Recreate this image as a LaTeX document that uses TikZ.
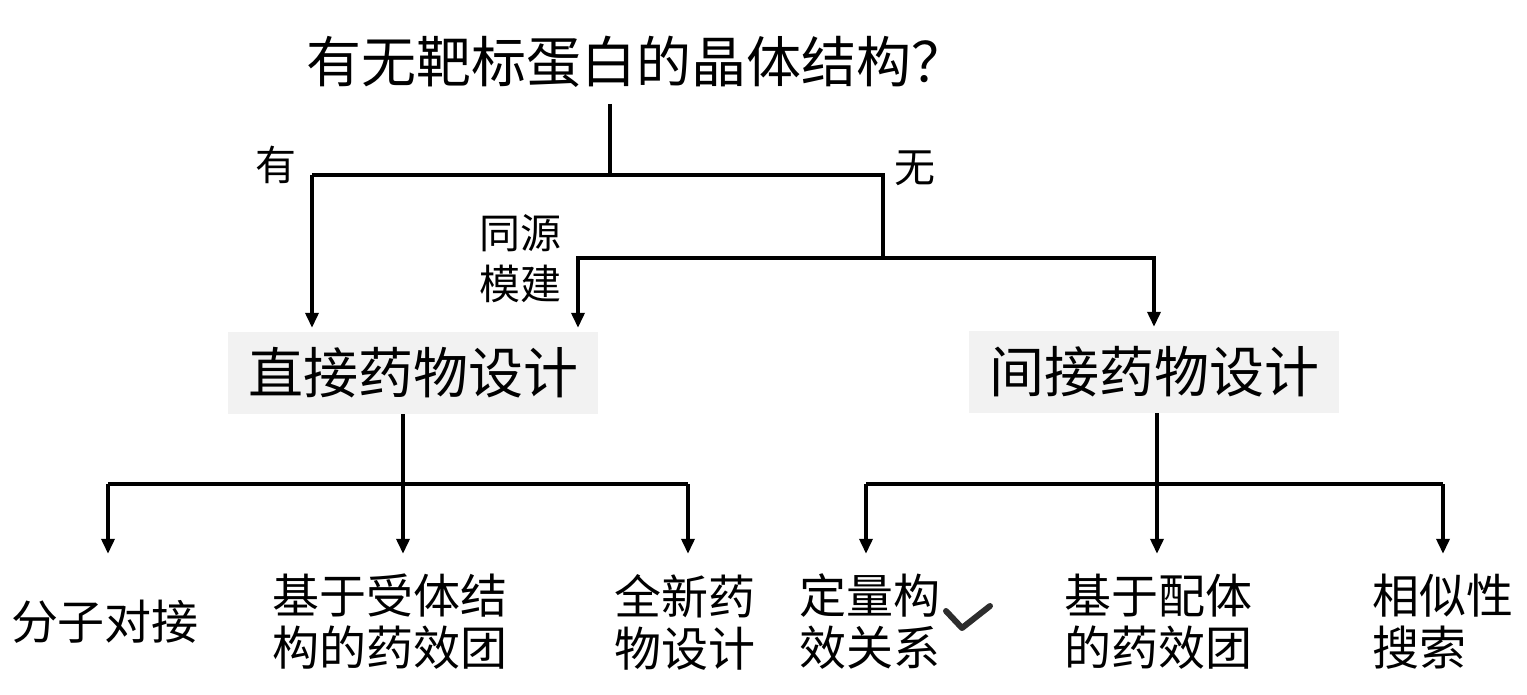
\documentclass[tikz,border=0pt]{standalone}
\usepackage{fontspec}
\setmainfont{Noto Sans CJK SC}
\usetikzlibrary{arrows.meta, positioning}
\tikzset{
    branch/.style={line width=3.5pt, black},
    arrow/.style={branch, -{Triangle[width=13pt,length=15pt]}},
    designbox/.style={rectangle, fill=gray!10, minimum width=370pt, minimum height=82pt, inner sep=0pt, font=\fontsize{55}{60}\selectfont},
    leaf/.style={align=center, inner sep=0pt, minimum height=110pt, font=\fontsize{47}{52}\selectfont},
    tag/.style={align=center, inner sep=0pt, font=\fontsize{41}{51}\selectfont},
}

\begin{document}
\begin{tikzpicture}[x=1pt, y=-1pt]
    \useasboundingbox (0,0) rectangle (1527,695);

    % Frage
    \node[inner sep=16pt, font=\fontsize{55}{60}\selectfont] (q) at (636,62) {有无靶标蛋白的晶体结构？};
    \coordinate (top) at (610,175);
    \coordinate (yes) at (312,175);
    \coordinate (no) at (883,175);
    \coordinate (mid) at (883,258);
    \coordinate (homL) at (578,258);

    % Hauptknoten
    \node[designbox] (direct) at (413,373) {直接药物设计};
    \node[designbox] (indirect) at (1154,372) {间接药物设计};

    \node[tag] (yeslbl) at (276,165) {有};
    \node[tag] (nolbl) at (915,168) {无};
    \node[tag] (homolbl) at (520,259) {同源\\模建};

    % Verzweigung oben
    \draw[branch] (q.south -| top) -- (top);
    \draw[branch] (yes) -- (no) -- (mid);
    \draw[arrow, shorten >=4pt] (yes) -- (direct.north -| yes);
    \draw[arrow, shorten >=4pt] (mid) -| (direct.north -| homL);
    \draw[arrow, shorten >=4pt] (mid) -| (indirect.north);

    % Blaetter
    \node[leaf] (dock) at (105,622) {分子对接};
    \node[leaf] (receptor) at (390,622) {基于受体结\\构的药效团};
    \node[leaf] (denovo) at (685,622) {全新药\\物设计};
    \node[leaf] (qsar) at (870,622) {定量构\\效关系};
    \node[leaf] (ligand) at (1158,622) {基于配体\\的药效团};
    \node[leaf, align=left] (similar) at (1443,622) {相似性\\搜索};

    % Verzweigung links
    \coordinate (dsplit) at (403,484);
    \coordinate (dL) at (108,484);
    \coordinate (dR) at (688,484);
    \draw[branch] (direct.south -| dsplit) -- (dsplit);
    \draw[branch] (dL) -- (dR);
    \draw[arrow, shorten >=13pt] (dL) -- (dock.north -| dL);
    \draw[arrow, shorten >=13pt] (dsplit) -- (receptor.north -| dsplit);
    \draw[arrow, shorten >=13pt] (dR) -- (denovo.north -| dR);

    % Verzweigung rechts
    \coordinate (isplit) at (1157,484);
    \coordinate (iL) at (866,484);
    \coordinate (iR) at (1443,484);
    \draw[branch] (indirect.south -| isplit) -- (isplit);
    \draw[branch] (iL) -- (iR);
    \draw[arrow, shorten >=13pt] (iL) -- (qsar.north -| iL);
    \draw[arrow, shorten >=13pt] (isplit) -- (ligand.north -| isplit);
    \draw[arrow, shorten >=13pt] (iR) -- (similar.north -| iR);

    % Haken
    \draw[gray!35!black, line width=6pt, line cap=round, line join=round] (946,611) -- (962,628) -- (990,606);
\end{tikzpicture}
\end{document}
